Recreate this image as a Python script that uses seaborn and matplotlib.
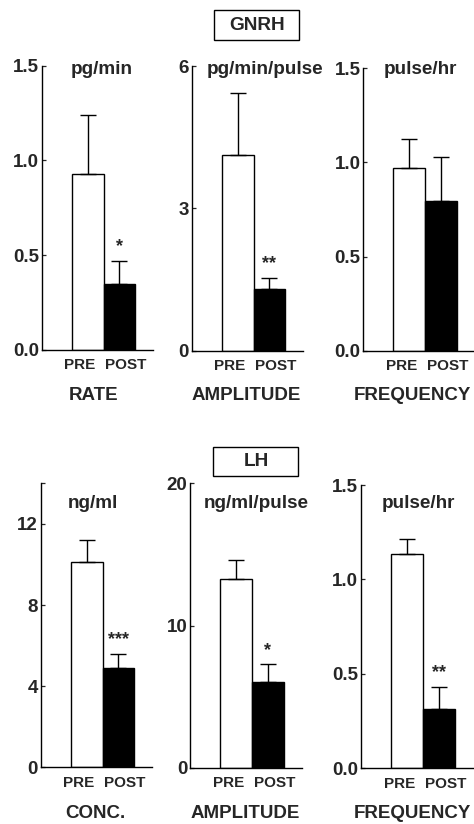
import matplotlib
matplotlib.use("Agg")
import matplotlib.pyplot as plt
import matplotlib.patches as mpatches
import seaborn as sns
import pandas as pd

sns.set_style("white")
plt.rcParams['font.family'] = ['Liberation Sans', 'DejaVu Sans']
plt.rcParams['font.weight'] = 'bold'

groups = ["PRE", "POST"]

# GnRH panels
gnrh_titles = ["RATE", "AMPLITUDE", "FREQUENCY"]
gnrh_units = ["pg/min", "pg/min/pulse", "pulse/hr"]
gnrh_means = [[0.93, 0.347], [4.12, 1.29], [0.97, 0.795]]
gnrh_errs = [[0.31, 0.124], [1.32, 0.24], [0.154, 0.235]]
gnrh_stars = ["*", "**", ""]
gnrh_ylims = [1.5, 6, 1.5]
gnrh_ticks = [[0.0, 0.5, 1.0, 1.5], [0, 3, 6], [0.0, 0.5, 1.0, 1.5]]
gnrh_ticklabels = [["0.0", "0.5", "1.0", "1.5"], ["0", "3", "6"], ["0.0", "0.5", "1.0", "1.5"]]

# LH panels
lh_titles = ["CONC.", "AMPLITUDE", "FREQUENCY"]
lh_units = ["ng/ml", "ng/ml/pulse", "pulse/hr"]
lh_means = [[10.12, 4.89], [13.24, 6.04], [1.133, 0.3125]]
lh_errs = [[1.07, 0.69], [1.36, 1.23], [0.082, 0.117]]
lh_stars = ["***", "*", "**"]
lh_ylims = [14, 20, 1.5]
lh_ticks = [[0, 4, 8, 12, 14], [0, 10, 20], [0.0, 0.5, 1.0, 1.5]]
lh_ticklabels = [["0", "4", "8", "12", ""], ["0", "10", "20"], ["0.0", "0.5", "1.0", "1.5"]]

W, H = 474, 824
fig = plt.figure(figsize=(W / 100, H / 100), dpi=100)

XL = (-1.45, 2.07)
UNIT = 31.7


def add_panel(left, top, bottom, mean, err, star, ylim, ticks, tlabels):
    width = (XL[1] - XL[0]) * UNIT
    ax = fig.add_axes([left / W, 1 - bottom / H, width / W, (bottom - top) / H])
    df = pd.DataFrame({"group": groups, "value": mean})
    sns.barplot(data=df, x="group", y="value", hue="group", palette=["white", "black"],
                edgecolor="black", linewidth=1.0, width=1.0, legend=False, ax=ax, errorbar=None)
    ax.errorbar([0, 1], mean, yerr=[[0, 0], err], fmt="none", ecolor="black",
                elinewidth=1.0, capsize=6, capthick=1.0, zorder=1)
    ax.set_xlim(*XL)
    ax.set_ylim(0, ylim)
    ax.set_yticks(ticks)
    ax.set_yticklabels(tlabels, fontsize=13.5, fontweight="bold")
    ax.set_xlabel("")
    ax.set_ylabel("")
    ax.set_xticks([-0.24, 1.21])
    ax.set_xticklabels(groups, fontsize=11, fontweight="bold")
    ax.tick_params(axis="x", length=0, pad=6)
    ax.tick_params(axis="y", direction="in", length=3, width=0.9, pad=2, left=True)
    for s in ["top", "right"]:
        ax.spines[s].set_visible(False)
    for s in ["left", "bottom"]:
        ax.spines[s].set_linewidth(1.0)
        ax.spines[s].set_color("black")
    ax.patch.set_alpha(0)
    if star:
        ax.text(1, mean[1] + err[1] + ylim * 0.02, star, ha="center", va="bottom",
                fontsize=13, fontweight="bold")
    return ax


def add_box(label, x0, x1, y0, y1, cx, cy):
    fig.patches.append(mpatches.Rectangle((x0 / W, 1 - y1 / H), (x1 - x0) / W, (y1 - y0) / H,
                                          transform=fig.transFigure, facecolor="white",
                                          edgecolor="black", linewidth=1.0))
    fig.text(cx / W, 1 - cy / H, label, ha="center", va="center", fontsize=13.7,
             fontweight="bold")


gnrh_left = [41.7, 191.7, 363.3]
gnrh_top = [65.7, 66.0, 68.2]
gnrh_bottom = [350.0, 350.7, 350.7]
gnrh_unit_x = [101.7, 265, 420]
gnrh_title_x = [93.3, 246.7, 412]
for i in range(3):
    add_panel(gnrh_left[i], gnrh_top[i], gnrh_bottom[i], gnrh_means[i], gnrh_errs[i],
              gnrh_stars[i], gnrh_ylims[i], gnrh_ticks[i], gnrh_ticklabels[i])
    fig.text(gnrh_unit_x[i] / W, 1 - 70 / H, gnrh_units[i], ha="center", va="center",
             fontsize=13.6, fontweight="bold")
    fig.text(gnrh_title_x[i] / W, 1 - 395 / H, gnrh_titles[i], ha="center", va="center",
             fontsize=13.5, fontweight="bold")

lh_left = [40.7, 190.0, 361.0]
lh_top = [483.3, 483.3, 485.0]
lh_bottom = [767.3, 767.7, 768.3]
lh_unit_x = [93, 256.7, 418]
lh_title_x = [95, 245, 412]
for i in range(3):
    add_panel(lh_left[i], lh_top[i], lh_bottom[i], lh_means[i], lh_errs[i],
              lh_stars[i], lh_ylims[i], lh_ticks[i], lh_ticklabels[i])
    fig.text(lh_unit_x[i] / W, 1 - 503.5 / H, lh_units[i], ha="center", va="center",
             fontsize=13.6, fontweight="bold")
    fig.text(lh_title_x[i] / W, 1 - 814 / H, lh_titles[i], ha="center", va="center",
             fontsize=13.5, fontweight="bold")

add_box("GNRH", 214, 299, 10, 40, 256.7, 25)
add_box("LH", 213.3, 297.7, 446.7, 476, 256.2, 462)

fig.savefig("out.png", dpi=100, facecolor="white")
